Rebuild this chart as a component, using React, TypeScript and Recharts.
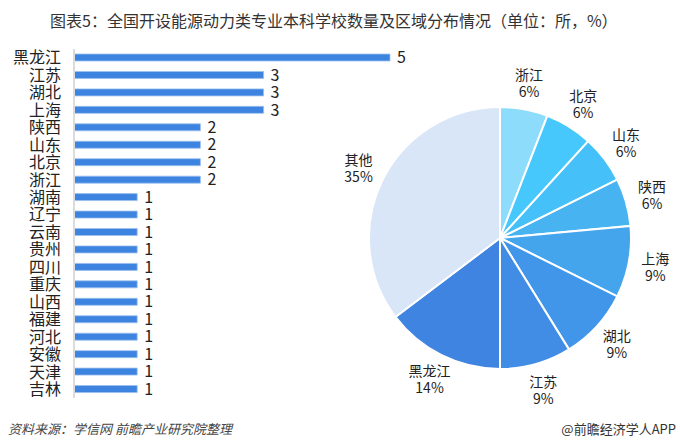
import { BarChart, Bar, XAxis, YAxis, LabelList, PieChart, Pie, Cell } from "recharts";

// 各省开设能源动力类专业本科学校数量（所）
const provinces = [
  "黑龙江", "江苏", "湖北", "上海", "陕西", "山东", "北京", "浙江",
  "湖南", "辽宁", "云南", "贵州", "四川", "重庆", "山西", "福建",
  "河北", "安徽", "天津", "吉林",
];
const counts = [5, 3, 3, 3, 2, 2, 2, 2, 1, 1, 1, 1, 1, 1, 1, 1, 1, 1, 1, 1];

// 区域分布（顺时针，自顶部起）
const pieNames = ["浙江", "北京", "山东", "陕西", "上海", "湖北", "江苏", "黑龙江", "其他"];
const pieValues = [2, 2, 2, 2, 3, 3, 3, 5, 12];
const pieLabels = ["6%", "6%", "6%", "6%", "9%", "9%", "9%", "14%", "35%"];
const pieColors = [
  "#8edcfc", "#47c8fc", "#45c0f8", "#47b4f1", "#44a5ed",
  "#4296e9", "#418de6", "#3f84e0", "#d9e6f7",
];

const barData = provinces.map((p, i) => ({ name: p, value: counts[i] }));
const pieData = pieNames.map((n, i) => ({ name: n, value: pieValues[i], label: pieLabels[i] }));

const FONT = "'Noto Sans CJK SC', 'Noto Sans', sans-serif";
const RAD = Math.PI / 180;

function renderPieLabel(props: any) {
  const { cx, cy, midAngle, outerRadius, index } = props;
  const r = outerRadius + 27;
  const x = cx + r * Math.cos(-midAngle * RAD);
  const y = cy + r * Math.sin(-midAngle * RAD);
  return (
    <text x={x} y={y} textAnchor="middle" fill="#222" fontSize={14} fontFamily={FONT}>
      <tspan x={x} dy={-3}>{pieNames[index]}</tspan>
      <tspan x={x} dy={17}>{pieLabels[index]}</tspan>
    </text>
  );
}

export default function App() {
  return (
    <div
      style={{
        position: "absolute",
        left: 0,
        top: 0,
        width: 680,
        height: 446,
        background: "#fff",
        fontFamily: FONT,
        overflow: "hidden",
      }}
    >
      <div
        style={{
          position: "absolute",
          left: 50,
          top: 8,
          fontSize: 16,
          color: "#333",
          whiteSpace: "nowrap",
        }}
      >
        图表5：全国开设能源动力类专业本科学校数量及区域分布情况（单位：所，%）
      </div>

      <div style={{ position: "absolute", left: 0, top: 0 }}>
        <BarChart
          width={420}
          height={446}
          layout="vertical"
          data={barData}
          margin={{ top: 49, bottom: 48, left: 0, right: 30 }}
        >
          <XAxis type="number" domain={[0, 5]} hide />
          <YAxis
            type="category"
            dataKey="name"
            width={74}
            interval={0}
            tickLine={false}
            tickSize={6}
            tickMargin={7}
            axisLine={{ stroke: "#dcdcdc", strokeWidth: 2 }}
            tick={{ fill: "#222", fontSize: 16, fontFamily: FONT }}
          />
          <Bar
            dataKey="value"
            fill="#3d83e0"
            stroke="#9cc0f0"
            strokeWidth={0.8}
            barSize={7}
            isAnimationActive={false}
          >
            <LabelList
              dataKey="value"
              position="right"
              offset={7}
              fill="#222"
              fontSize={16}
              fontFamily={FONT}
            />
          </Bar>
        </BarChart>
      </div>

      <div style={{ position: "absolute", left: 320, top: 48 }}>
        <PieChart width={360} height={380} margin={{ top: 0, right: 0, bottom: 0, left: 0 }}>
          <Pie
            data={pieData}
            dataKey="value"
            nameKey="name"
            cx={180}
            cy={190}
            outerRadius={131}
            startAngle={90}
            endAngle={-270}
            stroke="#fff"
            strokeWidth={2}
            labelLine={false}
            label={renderPieLabel}
            isAnimationActive={false}
          >
            {pieData.map((d, i) => (
              <Cell key={d.name} fill={pieColors[i]} />
            ))}
          </Pie>
        </PieChart>
      </div>

      <div
        style={{
          position: "absolute",
          left: 8,
          top: 419,
          fontSize: 13,
          fontStyle: "italic",
          color: "#444",
          whiteSpace: "nowrap",
        }}
      >
        资料来源：学信网 前瞻产业研究院整理
      </div>
      <div
        style={{
          position: "absolute",
          right: 4,
          top: 419,
          fontSize: 13,
          color: "#333",
          whiteSpace: "nowrap",
        }}
      >
        @前瞻经济学人APP
      </div>
    </div>
  );
}
